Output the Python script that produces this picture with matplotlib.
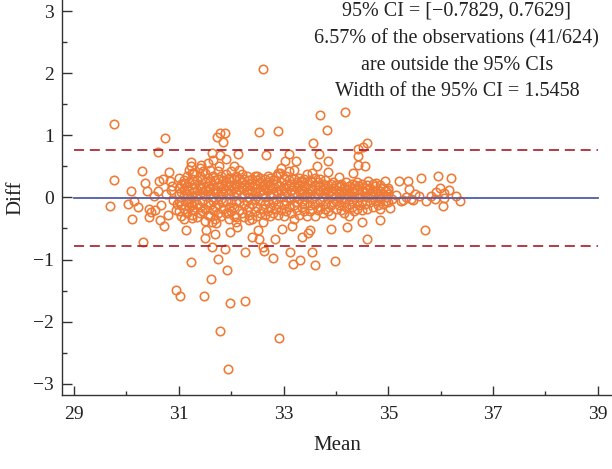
import matplotlib.pyplot as plt
from matplotlib.ticker import MultipleLocator, FixedLocator

# scattered points
mean_pts = [32.61, 29.77, 29.77, 29.68, 30.74, 30.60, 30.30, 30.09, 30.03, 30.11,
            30.32, 30.15, 30.23, 30.36, 30.40, 30.44, 30.43, 30.55, 30.62, 30.60,
            30.64, 30.71, 30.79, 30.82, 30.84, 30.86, 30.90, 30.94, 30.95, 31.03,
            31.14, 31.10, 31.23, 31.23, 31.25, 31.23, 31.26, 31.26, 31.23, 31.42,
            31.46, 31.50, 31.48, 31.53, 31.55, 31.61, 31.63, 31.64, 31.64, 31.70,
            31.72, 31.74, 31.78, 31.79, 31.75, 31.77, 31.79, 31.84, 31.89, 31.90,
            31.88, 31.94, 31.92, 31.98, 31.98, 31.94, 32.05, 32.13, 32.09, 32.11,
            32.26, 32.26, 32.35, 32.39, 32.49, 32.54, 32.51, 32.54, 32.61, 32.63,
            32.66, 32.70, 32.80, 32.84, 32.89, 32.91, 32.93, 32.98, 33.02, 33.11,
            33.13, 33.18, 33.17, 33.20, 33.24, 33.32, 33.36, 33.34, 33.47, 33.50,
            33.54, 33.56, 33.60, 33.63, 33.68, 33.69, 33.83, 33.84, 33.84, 33.90,
            33.99, 34.05, 34.10, 34.17, 34.21, 34.32, 34.36, 34.42, 34.42, 34.43,
            34.52, 34.55, 34.60, 34.60, 34.62, 34.50, 34.77, 34.85, 34.93, 35.00,
            35.03, 35.20, 35.29, 35.37, 35.40, 35.44, 35.51, 35.62, 35.70, 35.72,
            35.81, 35.89, 35.94, 35.98, 36.04, 36.06, 36.15, 36.19, 36.30, 36.37,
            36.07, 35.91, 35.08, 35.14, 35.24, 35.33, 35.47, 35.58, 30.52, 30.67,
            30.76, 30.88, 30.97, 30.70, 30.48]
diff_pts = [2.07, 1.19, 0.28, -0.14, 0.95, 0.73, 0.43, 0.10, -0.10, -0.35,
            -0.72, -0.06, -0.16, 0.23, 0.11, -0.18, -0.31, -0.21, 0.26, 0.10,
            -0.36, -0.46, -0.28, 0.41, 0.26, 0.12, -0.04, -0.20, -1.49, -1.58,
            -0.52, 0.24, 0.57, 0.50, 0.39, -1.04, -0.20, -0.33, -0.09, 0.52,
            0.43, -0.66, -1.59, -0.52, 0.55, -1.31, -0.79, 0.71, -0.40, -0.59,
            -0.41, 0.97, 1.03, -2.15, -0.99, 0.50, 0.69, 0.90, 1.03, 0.62,
            -0.83, -2.76, -1.17, -1.70, -0.56, -0.25, 0.51, 0.70, -0.31, -0.47,
            -0.88, -1.67, -0.36, -0.63, 0.35, 1.06, -0.52, -0.67, -0.79, -0.87,
            0.69, 0.34, -0.97, -0.67, 1.07, -2.27, 0.39, -0.51, 0.58, 0.70,
            -0.88, -1.07, -0.46, 0.44, 0.58, -1.00, -0.64, 0.26, -0.57, -0.52,
            -0.88, 0.88, -1.09, 0.50, 0.70, 1.32, 1.08, 0.58, 0.41, -0.51,
            -1.03, 0.33, 0.18, 1.38, -0.47, 0.40, 0.20, 0.52, 0.78, 0.66,
            0.82, 0.51, 0.88, -0.67, 0.27, -0.39, 0.23, -0.36, 0.26, 0.15,
            -0.17, 0.27, -0.04, 0.26, 0.14, -0.03, 0.06, 0.31, -0.52, -0.05,
            0.02, -0.03, 0.35, 0.15, -0.14, -0.01, 0.12, 0.31, 0.02, -0.05,
            0.07, 0.08, -0.02, 0.04, -0.06, 0.01, -0.04, 0.03, 0.02, -0.12,
            0.05, 0.18, -0.10, 0.30, -0.24]

# the dense band: one column of diffs per mean value (estimated)
band_mean = [31.00, 31.05, 31.10, 31.15, 31.20, 31.25, 31.30, 31.35, 31.40, 31.45,
             31.50, 31.55, 31.60, 31.65, 31.70, 31.75, 31.80, 31.85, 31.90, 31.95,
             32.00, 32.05, 32.10, 32.15, 32.20, 32.25, 32.30, 32.35, 32.40, 32.45,
             32.50, 32.55, 32.60, 32.65, 32.70, 32.75, 32.80, 32.85, 32.90, 32.95,
             33.00, 33.05, 33.10, 33.15, 33.20, 33.25, 33.30, 33.35, 33.40, 33.45,
             33.50, 33.55, 33.60, 33.65, 33.70, 33.75, 33.80, 33.85, 33.90, 33.95,
             34.00, 34.05, 34.10, 34.15, 34.20, 34.25, 34.30, 34.35, 34.40, 34.45,
             34.50, 34.55, 34.60, 34.65, 34.70, 34.75, 34.80, 34.85, 34.90, 34.95,
             35.00]
band_diff = [
    [0.15, -0.05, 0.32, -0.22, 0.05], [0.22, -0.12, 0.08, -0.30],
    [0.02, 0.28, -0.18, 0.12, -0.35], [0.18, -0.08, 0.35, -0.25, 0.05],
    [-0.02, 0.25, 0.10, -0.15, 0.45], [0.30, -0.28, 0.02, 0.15, -0.12],
    [0.08, -0.20, 0.22, 0.40, -0.05], [0.12, -0.32, 0.28, -0.10, 0.02],
    [0.20, -0.15, 0.05, 0.35, -0.25, 0.48], [-0.05, 0.15, -0.22, 0.30, 0.08],
    [0.25, 0.02, -0.18, 0.12, -0.38, 0.40], [0.10, -0.28, 0.18, -0.08, 0.32],
    [-0.12, 0.05, 0.26, -0.30, 0.15, 0.45], [0.20, -0.05, 0.35, -0.20, 0.00, 0.60],
    [0.08, -0.15, 0.28, -0.35, 0.12], [0.30, -0.10, 0.02, 0.18, -0.25, 0.42],
    [-0.02, 0.22, -0.30, 0.10, 0.35], [0.15, -0.18, 0.05, 0.28, -0.08],
    [0.25, -0.25, 0.12, -0.05, 0.38, 0.20], [0.05, 0.32, -0.15, 0.18, -0.35],
    [0.20, -0.08, 0.42, -0.22, 0.10, 0.32], [0.30, 0.02, -0.15, 0.15, -0.30],
    [-0.05, 0.22, 0.08, -0.40, 0.35, 0.18], [0.12, -0.20, 0.30, -0.08, 0.45],
    [0.25, 0.00, -0.25, 0.15, 0.38], [0.05, -0.12, 0.20, -0.32, 0.30],
    [0.18, -0.05, 0.35, -0.20, 0.08], [0.28, -0.28, 0.12, 0.00, -0.15, 0.22],
    [0.10, 0.30, -0.10, -0.35, 0.18], [-0.02, 0.22, -0.22, 0.35, 0.08],
    [0.15, -0.15, 0.28, 0.02, -0.30], [0.25, -0.05, 0.10, -0.25, 0.32],
    [0.05, 0.20, -0.18, 0.12, -0.40], [0.30, -0.10, 0.15, 0.00, -0.28, 0.22],
    [0.12, -0.22, 0.25, -0.05], [0.20, 0.02, -0.15, 0.32, -0.30],
    [-0.08, 0.15, 0.28, -0.25, 0.05], [0.22, -0.02, 0.10, -0.18, 0.35],
    [0.08, -0.28, 0.18, 0.40, -0.10], [0.25, 0.00, -0.20, 0.12, 0.48],
    [0.15, -0.12, 0.30, -0.30, 0.05], [0.22, -0.05, 0.08, 0.35, -0.22],
    [0.00, 0.18, -0.15, 0.28, 0.42], [0.12, -0.25, 0.22, -0.02],
    [0.30, 0.05, -0.12, 0.18, -0.35], [-0.08, 0.15, 0.25, -0.20, 0.02],
    [0.20, -0.02, 0.10, -0.28, 0.32], [0.05, 0.25, -0.15, 0.12, -0.05],
    [0.18, -0.10, 0.30, -0.22, 0.02], [0.08, -0.30, 0.22, 0.00, 0.38],
    [0.15, -0.12, 0.05, 0.28, -0.22], [0.25, -0.02, 0.12, -0.18, 0.40],
    [0.02, 0.20, -0.10, 0.32, -0.30], [0.12, -0.20, 0.25, 0.05],
    [0.18, -0.05, 0.30, -0.15, 0.08], [0.00, 0.22, -0.25, 0.12],
    [0.15, -0.10, 0.05, 0.28, -0.18], [0.08, -0.02, 0.20, -0.22],
    [0.22, -0.12, 0.10, 0.02, -0.28], [0.05, 0.15, -0.08, 0.25],
    [0.12, -0.18, 0.02, 0.20, -0.05], [0.00, 0.18, -0.12, 0.08],
    [0.10, -0.20, 0.22, -0.02], [0.05, -0.08, 0.15, -0.25],
    [0.12, -0.02, 0.25, -0.15], [0.02, 0.18, -0.10, 0.08, -0.30],
    [0.10, -0.15, 0.22, -0.05], [0.00, 0.15, -0.22, 0.08],
    [0.12, -0.08, 0.25, -0.18], [0.05, -0.12, 0.18, 0.00],
    [0.10, -0.05, 0.22, -0.20], [0.02, 0.15, -0.10, 0.08],
    [0.12, -0.18, 0.00, 0.20], [0.05, -0.08, 0.15],
    [0.00, 0.10, -0.15, 0.22], [0.08, -0.05, 0.18],
    [0.02, -0.12, 0.12], [0.10, -0.02, 0.20, -0.18],
    [0.05, -0.10, 0.15], [0.00, 0.10, -0.05],
    [0.05, -0.08, 0.12],
]

mean_diff = -0.01
ci_low = -0.7829
ci_high = 0.7629
line_x = [29, 39]
x_ticks = [29, 31, 33, 35, 37, 39]

info_lines = ["95% CI = [\u22120.7829, 0.7629]",
              "6.57% of the observations (41/624)",
              "are outside the 95% CIs",
              "Width of the 95% CI = 1.5458"]
info_y = [3.0, 2.55, 2.13, 1.71]

x_all = list(mean_pts)
y_all = list(diff_pts)
for m, col in zip(band_mean, band_diff):
    for d in col:
        x_all.append(m)
        y_all.append(d)

plt.rcParams['font.family'] = ['Liberation Serif', 'DejaVu Serif']
fig = plt.figure(figsize=(6.12, 4.69), dpi=100)
ax = fig.add_axes([0.102, 0.158, 0.898, 0.842])

ax.plot(x_all, y_all, 'o', mfc='none', mec='#ef7a35', ms=6.1, mew=1.15, zorder=2)
ax.plot(line_x, [mean_diff, mean_diff], color='#4e5cb0', lw=1.3, zorder=3)
ax.plot(line_x, [ci_high, ci_high], color='#a31a2a', lw=1.2, ls=(0, (6, 3.5)), zorder=3)
ax.plot(line_x, [ci_low, ci_low], color='#a31a2a', lw=1.2, ls=(0, (6, 3.5)), zorder=3)

for txt, yy in zip(info_lines, info_y):
    ax.text(36.31, yy, txt, ha='center', va='center', fontsize=14.5, color='#222222')

ax.set_xlim(28.78, 39.27)
ax.set_ylim(-3.18, 3.18)
ax.xaxis.set_major_locator(FixedLocator(x_ticks))
ax.xaxis.set_minor_locator(MultipleLocator(1))
ax.yaxis.set_major_locator(MultipleLocator(1))
ax.yaxis.set_minor_locator(MultipleLocator(0.5))

for s in ['top', 'right']:
    ax.spines[s].set_visible(False)
for s in ['left', 'bottom']:
    ax.spines[s].set_linewidth(1.0)
    ax.spines[s].set_color('#333333')

ax.tick_params(axis='both', which='both', direction='in', color='#333333', width=1.0,
               labelsize=14, labelcolor='#222222')
ax.tick_params(axis='y', which='major', length=7.5, pad=6)
ax.tick_params(axis='y', which='minor', length=3.5)
ax.tick_params(axis='x', which='major', length=6.5, pad=8)
ax.tick_params(axis='x', which='minor', length=3.0)

ax.set_xlabel('Mean', fontsize=15, color='#222222', labelpad=9)
ax.set_ylabel('Diff', fontsize=15, color='#222222', labelpad=6)

fig.savefig('out.png', dpi=100)
